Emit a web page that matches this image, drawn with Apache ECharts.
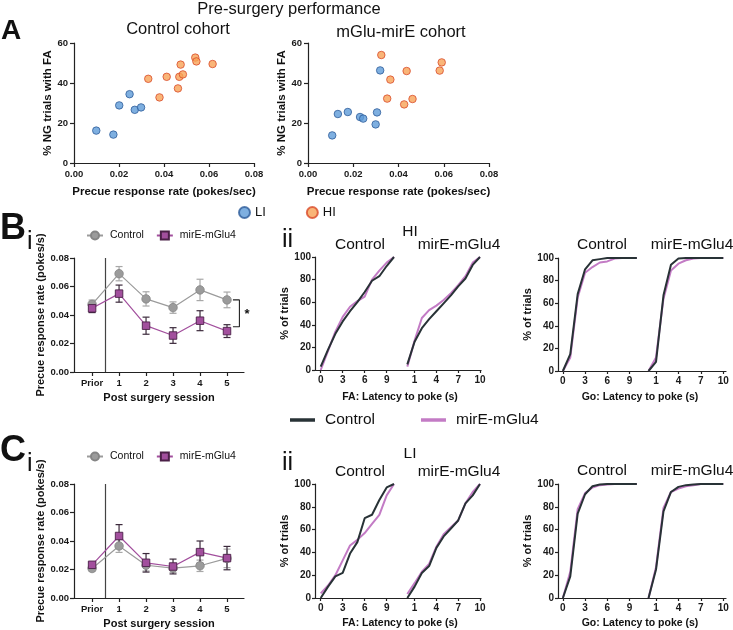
<!DOCTYPE html>
<html><head><meta charset="utf-8">
<script src="https://cdn.jsdelivr.net/npm/echarts@6/dist/echarts.min.js"></script>
<style>html,body{margin:0;padding:0;background:#fff}#c{width:733px;height:630px}</style>
</head><body><div id="c"></div>
<script>
const FONT = "'Liberation Sans', Arial, Helvetica, sans-serif";

// ---------- Panel A: pre-surgery scatter ----------
const ctrlLI = [[0.0099,16.2],[0.0175,14.2],[0.0201,28.8],[0.0247,34.4],[0.0270,26.6],[0.0298,27.8]];
const ctrlHI = [[0.0330,42.1],[0.0380,32.8],[0.0412,43.1],[0.0462,37.3],[0.0468,43.1],[0.0474,49.2],[0.0484,44.3],[0.0539,52.7],[0.0544,50.8],[0.0616,49.5]];
const mirLI = [[0.0107,13.8],[0.0132,24.5],[0.0176,25.5],[0.0230,23.0],[0.0244,22.2],[0.0299,19.3],[0.0305,25.3],[0.0319,46.3]];
const mirHI = [[0.0324,54.0],[0.0350,32.2],[0.0364,41.7],[0.0425,29.3],[0.0436,46.0],[0.0462,32.0],[0.0582,46.2],[0.0591,50.3]];

// ---------- Panels Bi / Ci: session means ± SEM ----------
const sessions = [0,1,2,3,4,5];
const sessionLabels = ['Prior','1','2','3','4','5'];
const hiCtrlMean = [0.0475,0.0690,0.0513,0.0452,0.0576,0.0506];
const hiCtrlSem  = [0.0030,0.0050,0.0050,0.0040,0.0075,0.0055];
const hiMirMean  = [0.0447,0.0550,0.0325,0.0256,0.0360,0.0287];
const hiMirSem   = [0.0030,0.0060,0.0060,0.0055,0.0070,0.0045];
const liCtrlMean = [0.0207,0.0365,0.0230,0.0210,0.0226,0.0278];
const liCtrlSem  = [0.0020,0.0045,0.0040,0.0030,0.0040,0.0065];
const liMirMean  = [0.0233,0.0435,0.0247,0.0221,0.0322,0.0280];
const liMirSem   = [0.0015,0.0080,0.0065,0.0052,0.0078,0.0082];
const sigBracket = [[5.22,0.0506],[5.46,0.0506],[5.46,0.0318],[5.22,0.0318]];
const surgeryLine = 0.5;

// ---------- Panels Bii / Cii: cumulative latency distributions ----------
const latency = [0,1,2,3,4,5,6,7,8,9,10];
const hiFaCtrlCtrl = [3,18,32,43,52,60,69,79,83,92,100];
const hiFaCtrlMir  = [0,17,34,47,56,61,65,80,88,95,100];
const hiFaMirCtrl  = [5,25,37,45,52,59,66,74,81,93,100];
const hiFaMirMir   = [3,26,46,53,57,62,68,75,83,95,100];
const hiGoCtrlCtrl = [0,15,68,90,98,99,100,100,100,100,100];
const hiGoCtrlMir  = [0,12,65,87,92,96,97,99.5,100,100,100];
const hiGoMirCtrl  = [0,8,67,94,99.5,100,100,100,100,100,100];
const hiGoMirMir   = [0,12,64,89,95,98,99.5,100,100,100,100];
const liFaCtrlCtrl = [0,10,19,22,39,49,70,73,86,97,100];
const liFaCtrlMir  = [4,11,20,33,46,51,57,65,73,90,100];
const liFaMirCtrl  = [0,10,22,28,44,54,61,68,83,90,100];
const liFaMirMir   = [3.5,13,23,30,45,56,62,68,83,93,100];
const liGoCtrlCtrl = [0,19,74,91,98,99.5,100,100,100,100,100];
const liGoCtrlMir  = [0,23,78,92,97,99,99.5,100,100,100,100];
const liGoMirCtrl  = [0,25,76,93,97.5,99,99.5,100,100,100,100];
const liGoMirMir   = [0,27,79,93,96,98,99,100,100,100,100];
const ticksA = [0,3,6,9];
const ticksB = [1,4,7,10];

const C_BLACK = '#283236', C_PURP = '#c37bc5';
const C_GRAY = '#9b9b9b', C_MIR = '#a24f9d';

const grids = [
  {left:74, top:43, width:180, height:120},
  {left:308, top:43, width:181, height:120},
  {left:74, top:258, width:170, height:114},
  {left:74, top:484, width:170, height:114},
  {left:315, top:257, width:82, height:113},
  {left:397, top:257, width:84, height:113},
  {left:558, top:258, width:85, height:113},
  {left:643, top:258, width:83, height:113},
  {left:315, top:484, width:82, height:114},
  {left:397, top:484, width:84, height:114},
  {left:558, top:484, width:85, height:114},
  {left:643, top:484, width:83, height:114}
];

const aLine = {show:true, onZero:false, lineStyle:{color:'#222', width:1.2}};
function tick(len, custom){ const t = {show:true, length:len, lineStyle:{color:'#222', width:1.2}}; if(custom) t.customValues = custom; return t; }
function lab(size, margin, extra){ return Object.assign({fontFamily:FONT, fontWeight:'bold', fontSize:size, color:'#1a1a1a', margin:margin}, extra||{}); }
function nm(size){ return {fontFamily:FONT, fontWeight:'bold', fontSize:size, color:'#111'}; }

const xAxes = [], yAxes = [];
// A
[0,1].forEach(g=>{
  xAxes.push({gridIndex:g, type:'value', min:0, max:0.08, interval:0.02, axisLine:aLine, axisTick:tick(4), splitLine:{show:false},
    axisLabel:lab(9.5,6,{formatter:v=>v.toFixed(2)}), name:'Precue response rate (pokes/sec)', nameLocation:'middle', nameGap:23, nameTextStyle:nm(11.5)});
  yAxes.push({gridIndex:g, type:'value', min:0, max:60, interval:20, axisLine:aLine, axisTick:tick(4), splitLine:{show:false},
    axisLabel:lab(9.5,6), name:'% NG trials with FA', nameLocation:'middle', nameGap:18, nameTextStyle:nm(11.5)});
});
// Bi, Ci
[2,3].forEach(g=>{
  xAxes.push({gridIndex:g, type:'value', min:-0.67, max:5.63, axisLine:aLine, splitLine:{show:false},
    axisTick:tick(4, sessions), axisLabel:lab(9.5,6,{customValues:sessions, formatter:v=>sessionLabels[sessions.indexOf(v)]}),
    name:'Post surgery session', nameLocation:'middle', nameGap:20, nameTextStyle:nm(11)});
  yAxes.push({gridIndex:g, type:'value', min:0, max:0.08, interval:0.02, axisLine:aLine, axisTick:tick(4), splitLine:{show:false},
    axisLabel:lab(9.5,5,{formatter:v=>v.toFixed(2)}), name:'Precue response rate (pokes/s)', nameLocation:'middle', nameGap:26, nameTextStyle:nm(11)});
});
// CDFs
const xr = {4:[-0.78,10.41], 5:[-1.42,10.14], 6:[-0.66,10.83], 7:[-0.74,10.36]};
for (let g=4; g<12; g++){
  const k = g<8 ? g : g-4;
  const first = (k===4 || k===6);
  xAxes.push({gridIndex:g, type:'value', min:xr[k][0], max:xr[k][1], axisLine:aLine, splitLine:{show:false},
    axisTick:tick(3, first?ticksA:ticksB), axisLabel:lab(10,5,{customValues:first?ticksA:ticksB})});
  if (first) yAxes.push({gridIndex:g, type:'value', min:0, max:100, interval:20, axisLine:aLine, axisTick:tick(3), splitLine:{show:false},
    axisLabel:lab(10,4), name:'% of trials', nameLocation:'middle', nameGap:24, nameTextStyle:nm(11)});
  else yAxes.push({gridIndex:g, type:'value', min:0, max:100, show:false});
}

function errRender(color){
  return function(params, api){
    const x = api.value(0), lo = api.value(1), hi = api.value(2);
    const a = api.coord([x, lo]), b = api.coord([x, hi]);
    const w = 3.5, st = {stroke:color, lineWidth:1.2, fill:null};
    return {type:'group', children:[
      {type:'line', shape:{x1:a[0],y1:a[1],x2:b[0],y2:b[1]}, style:st},
      {type:'line', shape:{x1:a[0]-w,y1:a[1],x2:a[0]+w,y2:a[1]}, style:st},
      {type:'line', shape:{x1:b[0]-w,y1:b[1],x2:b[0]+w,y2:b[1]}, style:st}
    ]};
  };
}
function errData(mean, sem){ return sessions.map((s,i)=>[s, mean[i]-sem[i], mean[i]+sem[i]]); }
function pts(mean){ return sessions.map((s,i)=>[s, mean[i]]); }

const series = [];
function sessionPanel(g, cm, cs, mm, ms, withSig){
  series.push({type:'line', name:'Control', xAxisIndex:g, yAxisIndex:g, data:pts(cm), symbol:'circle', symbolSize:8.5,
    lineStyle:{color:C_GRAY, width:1.2}, itemStyle:{color:C_GRAY, borderColor:'#858585', borderWidth:0.8}, z:4,
    markLine:{silent:true, symbol:'none', label:{show:false}, lineStyle:{color:'#444', type:'solid', width:1.2}, data:[{xAxis:surgeryLine}], z:1}});
  series.push({type:'line', name:'mirE-mGlu4', xAxisIndex:g, yAxisIndex:g, data:pts(mm), symbol:'rect', symbolSize:7.5,
    lineStyle:{color:C_MIR, width:1.2}, itemStyle:{color:C_MIR, borderColor:'#4b2047', borderWidth:0.9}, z:5});
  series.push({type:'custom', xAxisIndex:g, yAxisIndex:g, data:errData(cm,cs), renderItem:errRender('#a8a8a8'), encode:{x:0,y:[1,2]}, z:3});
  series.push({type:'custom', xAxisIndex:g, yAxisIndex:g, data:errData(mm,ms), renderItem:errRender('#3c2a3c'), encode:{x:0,y:[1,2]}, z:3});
  if (withSig) series.push({type:'line', xAxisIndex:g, yAxisIndex:g, data:sigBracket, symbol:'none', lineStyle:{color:'#222', width:1.1}, z:3});
}
sessionPanel(2, hiCtrlMean, hiCtrlSem, hiMirMean, hiMirSem, true);
sessionPanel(3, liCtrlMean, liCtrlSem, liMirMean, liMirSem, false);

const liStyle = {color:'#5e9bd8', borderColor:'#2e5c9a', borderWidth:1};
const hiStyle = {color:'#f7a356', borderColor:'#d94b2b', borderWidth:1};
series.push({type:'scatter', name:'LI', xAxisIndex:0, yAxisIndex:0, data:ctrlLI, symbolSize:7.5, itemStyle:liStyle});
series.push({type:'scatter', name:'HI', xAxisIndex:0, yAxisIndex:0, data:ctrlHI, symbolSize:7.5, itemStyle:hiStyle});
series.push({type:'scatter', name:'LI', xAxisIndex:1, yAxisIndex:1, data:mirLI, symbolSize:7.5, itemStyle:liStyle});
series.push({type:'scatter', name:'HI', xAxisIndex:1, yAxisIndex:1, data:mirHI, symbolSize:7.5, itemStyle:hiStyle});

function cdf(g, ctrl, mir){
  series.push({type:'line', name:'mirE-mGlu4', xAxisIndex:g, yAxisIndex:g, data:latency.map((x,i)=>[x,mir[i]]), symbol:'none', lineStyle:{color:C_PURP, width:2}, itemStyle:{color:C_PURP}});
  series.push({type:'line', name:'Control', xAxisIndex:g, yAxisIndex:g, data:latency.map((x,i)=>[x,ctrl[i]]), symbol:'none', lineStyle:{color:C_BLACK, width:2}, itemStyle:{color:C_BLACK}});
}
cdf(4, hiFaCtrlCtrl, hiFaCtrlMir); cdf(5, hiFaMirCtrl, hiFaMirMir);
cdf(6, hiGoCtrlCtrl, hiGoCtrlMir); cdf(7, hiGoMirCtrl, hiGoMirMir);
cdf(8, liFaCtrlCtrl, liFaCtrlMir); cdf(9, liFaMirCtrl, liFaMirMir);
cdf(10, liGoCtrlCtrl, liGoCtrlMir); cdf(11, liGoMirCtrl, liGoMirMir);

function T(x, y, s, size, o){
  return {type:'text', x:x, y:y, silent:true, style:Object.assign({text:s, fontFamily:FONT, fontSize:size, fill:'#111',
    align:'center', verticalAlign:'middle', textAlign:'center', textVerticalAlign:'middle'}, o||{})};
}
const L = {align:'left', textAlign:'left'};
const graphic = [
  T(1, 31, 'A', 28, Object.assign({fontWeight:'bold'}, L)),
  T(289, 9, 'Pre-surgery performance', 16.5),
  T(178, 29, 'Control cohort', 16.5),
  T(401, 32, 'mGlu-mirE cohort', 16.5),
  T(0, 229, 'B', 36, Object.assign({fontWeight:'bold'}, L)),
  T(27, 242, 'i', 25, L),
  T(0, 451, 'C', 36, Object.assign({fontWeight:'bold'}, L)),
  T(27, 464, 'i', 25, L),
  T(247, 314, '*', 13, {fontWeight:'bold'}),
  T(282, 240, 'ii', 25, L),
  T(282, 463, 'ii', 25, L),
  T(410, 232, 'HI', 15.5),
  T(410, 454, 'LI', 15.5),
  T(360, 245, 'Control', 15.5), T(459, 245, 'mirE-mGlu4', 15.5),
  T(602, 245, 'Control', 15.5), T(692, 245, 'mirE-mGlu4', 15.5),
  T(360, 472, 'Control', 15.5), T(459, 472, 'mirE-mGlu4', 15.5),
  T(602, 471, 'Control', 15.5), T(692, 471, 'mirE-mGlu4', 15.5),
  T(400, 397, 'FA: Latency to poke (s)', 10.5, {fontWeight:'bold'}),
  T(640, 397, 'Go: Latency to poke (s)', 10.5, {fontWeight:'bold'}),
  T(400, 623, 'FA: Latency to poke (s)', 10.5, {fontWeight:'bold'}),
  T(640, 623, 'Go: Latency to poke (s)', 10.5, {fontWeight:'bold'})
];

const legTxt = (s, pad) => ({fontFamily:FONT, fontSize:s, color:'#111', padding:[0,0,0,pad||0]});
const option = {
  animation:false,
  backgroundColor:'#fff',
  grid: grids,
  xAxis: xAxes,
  yAxis: yAxes,
  series: series,
  graphic: graphic,
  legend: [
    {data:['LI','HI'], left:233, top:201, icon:'circle', itemWidth:11, itemHeight:11, itemGap:40, selectedMode:false, textStyle:legTxt(13)},
    {data:['Control','mirE-mGlu4'], left:81, top:225, itemWidth:16, itemHeight:10, itemGap:12, selectedMode:false, textStyle:legTxt(10.5, 2)},
    {data:['Control','mirE-mGlu4'], left:81, top:446, itemWidth:16, itemHeight:10, itemGap:12, selectedMode:false, textStyle:legTxt(10.5, 2)},
    {data:[{name:'Control', icon:'rect', itemStyle:{color:C_BLACK, borderWidth:0}}, {name:'mirE-mGlu4', icon:'rect', itemStyle:{color:C_PURP, borderWidth:0}}],
      left:285, top:407, itemWidth:25, itemHeight:3.5, itemGap:46, selectedMode:false, textStyle:legTxt(15.5, 5)}
  ]
};
const chart = echarts.init(document.getElementById('c'), null, {renderer:'canvas'});
chart.setOption(option);
</script></body></html>
